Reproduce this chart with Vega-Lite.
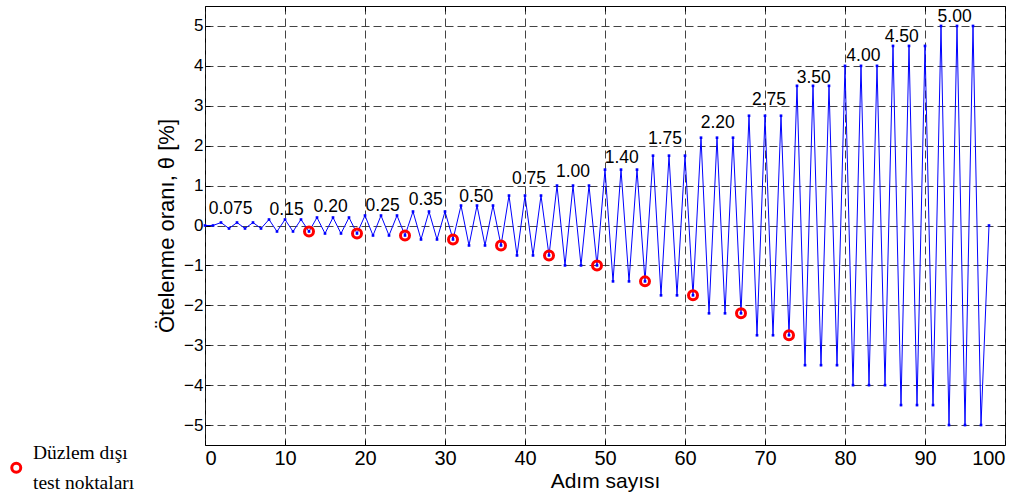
{
  "$schema": "https://vega.github.io/schema/vega-lite/v6.json",
  "width": 800,
  "height": 439,
  "autosize": {"type": "none"},
  "padding": {"left": 205, "top": 6, "right": 20, "bottom": 51},
  "background": "white",
  "config": {
    "view": {"stroke": "#000000", "strokeWidth": 1},
    "style": {"guide-label": {"lineHeight": 30}},
    "axis": {
      "domain": false,
      "gridColor": "#222222",
      "gridDash": [8, 4],
      "gridWidth": 1,
      "gridOpacity": 0.85,
      "tickColor": "#000000",
      "labelColor": "#000000",
      "titleColor": "#000000",
      "titleFontWeight": "normal"
    }
  },
  "datasets": {
    "seri": [
      {"adim": 0, "teta": 0}, {"adim": 1, "teta": 0},
      {"adim": 2, "teta": 0.075}, {"adim": 3, "teta": -0.075}, {"adim": 4, "teta": 0.075}, {"adim": 5, "teta": -0.075}, {"adim": 6, "teta": 0.075}, {"adim": 7, "teta": -0.075},
      {"adim": 8, "teta": 0.15}, {"adim": 9, "teta": -0.15}, {"adim": 10, "teta": 0.15}, {"adim": 11, "teta": -0.15}, {"adim": 12, "teta": 0.15}, {"adim": 13, "teta": -0.15},
      {"adim": 14, "teta": 0.2}, {"adim": 15, "teta": -0.2}, {"adim": 16, "teta": 0.2}, {"adim": 17, "teta": -0.2}, {"adim": 18, "teta": 0.2}, {"adim": 19, "teta": -0.2},
      {"adim": 20, "teta": 0.25}, {"adim": 21, "teta": -0.25}, {"adim": 22, "teta": 0.25}, {"adim": 23, "teta": -0.25}, {"adim": 24, "teta": 0.25}, {"adim": 25, "teta": -0.25},
      {"adim": 26, "teta": 0.35}, {"adim": 27, "teta": -0.35}, {"adim": 28, "teta": 0.35}, {"adim": 29, "teta": -0.35}, {"adim": 30, "teta": 0.35}, {"adim": 31, "teta": -0.35},
      {"adim": 32, "teta": 0.5}, {"adim": 33, "teta": -0.5}, {"adim": 34, "teta": 0.5}, {"adim": 35, "teta": -0.5}, {"adim": 36, "teta": 0.5}, {"adim": 37, "teta": -0.5},
      {"adim": 38, "teta": 0.75}, {"adim": 39, "teta": -0.75}, {"adim": 40, "teta": 0.75}, {"adim": 41, "teta": -0.75}, {"adim": 42, "teta": 0.75}, {"adim": 43, "teta": -0.75},
      {"adim": 44, "teta": 1.0}, {"adim": 45, "teta": -1.0}, {"adim": 46, "teta": 1.0}, {"adim": 47, "teta": -1.0}, {"adim": 48, "teta": 1.0}, {"adim": 49, "teta": -1.0},
      {"adim": 50, "teta": 1.4}, {"adim": 51, "teta": -1.4}, {"adim": 52, "teta": 1.4}, {"adim": 53, "teta": -1.4}, {"adim": 54, "teta": 1.4}, {"adim": 55, "teta": -1.4},
      {"adim": 56, "teta": 1.75}, {"adim": 57, "teta": -1.75}, {"adim": 58, "teta": 1.75}, {"adim": 59, "teta": -1.75}, {"adim": 60, "teta": 1.75}, {"adim": 61, "teta": -1.75},
      {"adim": 62, "teta": 2.2}, {"adim": 63, "teta": -2.2}, {"adim": 64, "teta": 2.2}, {"adim": 65, "teta": -2.2}, {"adim": 66, "teta": 2.2}, {"adim": 67, "teta": -2.2},
      {"adim": 68, "teta": 2.75}, {"adim": 69, "teta": -2.75}, {"adim": 70, "teta": 2.75}, {"adim": 71, "teta": -2.75}, {"adim": 72, "teta": 2.75}, {"adim": 73, "teta": -2.75},
      {"adim": 74, "teta": 3.5}, {"adim": 75, "teta": -3.5}, {"adim": 76, "teta": 3.5}, {"adim": 77, "teta": -3.5}, {"adim": 78, "teta": 3.5}, {"adim": 79, "teta": -3.5},
      {"adim": 80, "teta": 4.0}, {"adim": 81, "teta": -4.0}, {"adim": 82, "teta": 4.0}, {"adim": 83, "teta": -4.0}, {"adim": 84, "teta": 4.0}, {"adim": 85, "teta": -4.0},
      {"adim": 86, "teta": 4.5}, {"adim": 87, "teta": -4.5}, {"adim": 88, "teta": 4.5}, {"adim": 89, "teta": -4.5}, {"adim": 90, "teta": 4.5}, {"adim": 91, "teta": -4.5},
      {"adim": 92, "teta": 5.0}, {"adim": 93, "teta": -5.0}, {"adim": 94, "teta": 5.0}, {"adim": 95, "teta": -5.0}, {"adim": 96, "teta": 5.0}, {"adim": 97, "teta": -5.0},
      {"adim": 98, "teta": 0}
    ],
    "testler": [
      {"adim": 13, "teta": -0.15, "tur": "Düzlem dışı test noktaları"},
      {"adim": 19, "teta": -0.2, "tur": "Düzlem dışı test noktaları"},
      {"adim": 25, "teta": -0.25, "tur": "Düzlem dışı test noktaları"},
      {"adim": 31, "teta": -0.35, "tur": "Düzlem dışı test noktaları"},
      {"adim": 37, "teta": -0.5, "tur": "Düzlem dışı test noktaları"},
      {"adim": 43, "teta": -0.75, "tur": "Düzlem dışı test noktaları"},
      {"adim": 49, "teta": -1.0, "tur": "Düzlem dışı test noktaları"},
      {"adim": 55, "teta": -1.4, "tur": "Düzlem dışı test noktaları"},
      {"adim": 61, "teta": -1.75, "tur": "Düzlem dışı test noktaları"},
      {"adim": 67, "teta": -2.2, "tur": "Düzlem dışı test noktaları"},
      {"adim": 73, "teta": -2.75, "tur": "Düzlem dışı test noktaları"}
    ],
    "etiketler": [
      {"etiket": "0.075", "lx": 3.2, "ly": 0.28},
      {"etiket": "0.15", "lx": 10.2, "ly": 0.27},
      {"etiket": "0.20", "lx": 15.7, "ly": 0.335},
      {"etiket": "0.25", "lx": 22.2, "ly": 0.37},
      {"etiket": "0.35", "lx": 27.6, "ly": 0.52},
      {"etiket": "0.50", "lx": 33.9, "ly": 0.6},
      {"etiket": "0.75", "lx": 40.5, "ly": 1.035},
      {"etiket": "1.00", "lx": 46.0, "ly": 1.21},
      {"etiket": "1.40", "lx": 52.1, "ly": 1.56},
      {"etiket": "1.75", "lx": 57.5, "ly": 2.035},
      {"etiket": "2.20", "lx": 64.1, "ly": 2.435},
      {"etiket": "2.75", "lx": 70.5, "ly": 3.02},
      {"etiket": "3.50", "lx": 76.1, "ly": 3.575},
      {"etiket": "4.00", "lx": 82.3, "ly": 4.12},
      {"etiket": "4.50", "lx": 87.1, "ly": 4.6},
      {"etiket": "5.00", "lx": 93.7, "ly": 5.1}
    ]
  },
  "resolve": {"axis": {"x": "independent", "y": "independent"}},
  "layer": [
    {
      "data": {"name": "seri"},
      "mark": {"type": "line", "color": "#0000ff", "strokeWidth": 1},
      "encoding": {
        "x": {
          "field": "adim", "type": "quantitative",
          "scale": {"domain": [0, 100], "nice": false, "zero": false},
          "axis": {
            "orient": "bottom", "values": [0, 10, 20, 30, 40, 50, 60, 70, 80, 90, 100],
            "grid": true, "tickSize": -5, "labelPadding": 8,
            "labelFont": "Liberation Sans", "labelFontSize": 20,
            "title": "Adım sayısı", "titleFont": "Liberation Sans", "titleFontSize": 21, "titlePadding": 2
          }
        },
        "y": {
          "field": "teta", "type": "quantitative",
          "scale": {"domain": [-5.5, 5.5], "nice": false, "zero": false},
          "axis": {
            "orient": "left", "values": [-5, -4, -3, -2, -1, 0, 1, 2, 3, 4, 5],
            "grid": true, "tickSize": -5, "labelPadding": 7,
            "labelFont": "Liberation Sans", "labelFontSize": 17,
            "title": "Ötelenme oranı,  θ [%]", "titleFont": "Liberation Sans", "titleFontSize": 22, "titlePadding": 5
          }
        }
      }
    },
    {
      "data": {"name": "seri"},
      "mark": {"type": "point", "shape": "square", "filled": true, "color": "#0000ff", "size": 7, "opacity": 1},
      "encoding": {
        "x": {
          "field": "adim", "type": "quantitative",
          "scale": {"domain": [0, 100], "nice": false, "zero": false},
          "axis": {"orient": "top", "values": [0, 10, 20, 30, 40, 50, 60, 70, 80, 90, 100], "grid": false, "labels": false, "tickSize": -5, "title": null}
        },
        "y": {
          "field": "teta", "type": "quantitative",
          "scale": {"domain": [-5.5, 5.5], "nice": false, "zero": false},
          "axis": {"orient": "right", "values": [-5, -4, -3, -2, -1, 0, 1, 2, 3, 4, 5], "grid": false, "labels": false, "tickSize": -5, "title": null}
        }
      }
    },
    {
      "data": {"name": "testler"},
      "mark": {"type": "point", "filled": false, "strokeWidth": 3, "size": 81, "opacity": 1},
      "encoding": {
        "x": {"field": "adim", "type": "quantitative", "axis": null},
        "y": {"field": "teta", "type": "quantitative", "axis": null},
        "color": {
          "field": "tur", "type": "nominal",
          "scale": {"range": ["#ff0000"]},
          "legend": {
            "orient": "none", "legendX": -198.5, "legendY": 447,
            "title": null, "padding": 0,
            "symbolType": "M -1 1.11 A 1 1 0 1 0 1 1.11 A 1 1 0 1 0 -1 1.11 Z",
            "symbolStrokeWidth": 3, "symbolSize": 81, "symbolFillColor": "#ffffff",
            "labelFont": "Liberation Serif", "labelFontSize": 19.5, "labelColor": "#000000",
            "labelBaseline": "bottom",
            "labelLimit": 300, "labelOffset": 7,
            "labelExpr": "['Düzlem dışı', 'test noktaları']"
          }
        }
      }
    },
    {
      "data": {"name": "etiketler"},
      "mark": {"type": "text", "font": "Liberation Sans", "fontSize": 17.5, "color": "#000000", "align": "center", "baseline": "alphabetic"},
      "encoding": {
        "x": {"field": "lx", "type": "quantitative", "axis": null},
        "y": {"field": "ly", "type": "quantitative", "axis": null},
        "text": {"field": "etiket", "type": "nominal"}
      }
    }
  ]
}
